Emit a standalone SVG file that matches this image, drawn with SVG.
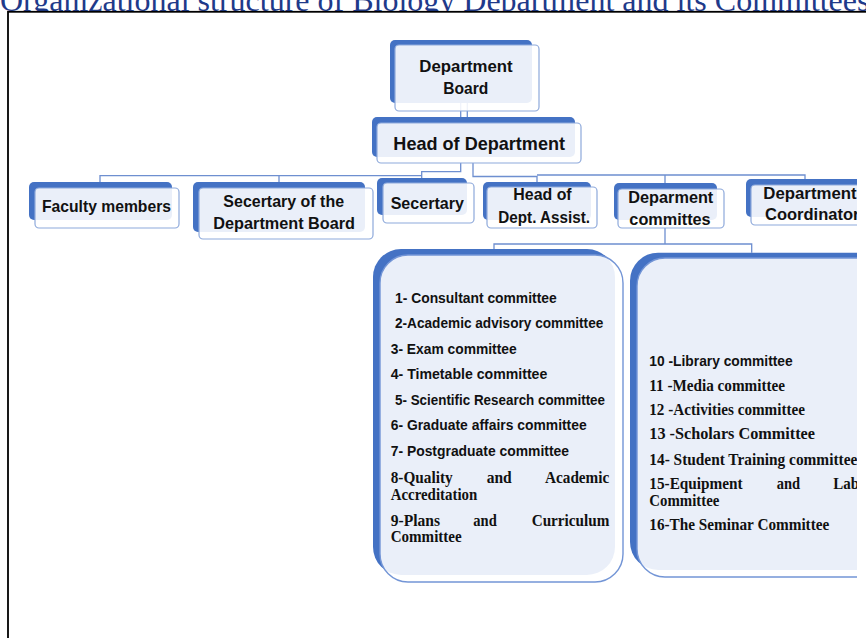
<svg xmlns="http://www.w3.org/2000/svg" width="866" height="638" viewBox="0 0 866 638">
<defs>
<style>
.back{fill:#4472C4}
.front{fill:#fff;fill-opacity:.89;stroke:#8EA9DB;stroke-width:1.2}
.big{stroke:#7395D6;stroke-width:1.4}
.conn{fill:none;stroke:#6E8FD0;stroke-width:1.3}
.t{font-family:"Liberation Sans",Arial,sans-serif;font-weight:bold;fill:#111;font-size:17px}
.c{text-anchor:middle}
.s{font-family:"Liberation Sans",Arial,sans-serif;font-weight:bold;fill:#111;font-size:15px}
.r{font-family:"Liberation Serif","Times New Roman",serif;font-weight:bold;fill:#111;font-size:16px}
.title{font-family:"Liberation Serif","Times New Roman",serif;font-size:32px;fill:#1F3A8A}
</style>
<clipPath id="page"><rect x="0" y="12" width="857" height="626"/></clipPath>
</defs>

<rect width="866" height="638" fill="#fff"/>
<text class="title" x="0" y="10.5">Organizational structure of Biology Department and its Committees</text>
<!-- page frame, its white body hides the title descenders -->
<rect x="8" y="11.8" width="900" height="700" fill="#fff" stroke="#000" stroke-width="1.8"/>

<g clip-path="url(#page)">
<!-- connectors -->
<g id="connectors" class="conn">
  <path d="M460.7 103V117M467.3 103V117"/>
  <path d="M460.7 163V171.7H421.7V178"/>
  <path d="M421.7 175.7H100V182M279 175.7V182"/>
  <path d="M473 163V176.5H537V182"/>
  <path d="M537 175H805V179M665 175V183"/>
  <path d="M665 228V244M494 249V244H751.7V252.7"/>
</g>

<!-- top level -->
<g id="board">
  <rect class="back" x="390" y="40" width="142" height="63" rx="5"/>
  <rect class="front" x="395" y="45" width="144" height="66" rx="4"/>
  <text class="t c" x="466" y="72" textLength="93.3" lengthAdjust="spacingAndGlyphs">Department</text>
  <text class="t c" x="465.8" y="94" textLength="45" lengthAdjust="spacingAndGlyphs">Board</text>
</g>
<g id="head">
  <rect class="back" x="372" y="117" width="203" height="40" rx="5"/>
  <rect class="front" x="377" y="123" width="204" height="40" rx="4"/>
  <text class="t c" x="479.2" y="150" style="font-size:19px" textLength="171.7" lengthAdjust="spacingAndGlyphs">Head of Department</text>
</g>

<!-- second level -->
<g id="faculty">
  <rect class="back" x="29" y="182" width="143" height="38" rx="5"/>
  <rect class="front" x="35" y="188" width="144" height="40" rx="4"/>
  <text class="t c" x="106.5" y="212" textLength="129" lengthAdjust="spacingAndGlyphs">Faculty members</text>
</g>
<g id="board-secretary">
  <rect class="back" x="193" y="182" width="172" height="50" rx="5"/>
  <rect class="front" x="199" y="188" width="174" height="51" rx="4"/>
  <text class="t c" x="283.7" y="207" textLength="120.7" lengthAdjust="spacingAndGlyphs">Secertary of the</text>
  <text class="t c" x="284.2" y="228.5" textLength="141.7" lengthAdjust="spacingAndGlyphs">Department Board</text>
</g>
<g id="secretary">
  <rect class="back" x="377" y="178" width="90" height="37" rx="5"/>
  <rect class="front" x="383" y="183" width="91" height="40" rx="4"/>
  <text class="t c" x="427.3" y="208.5" textLength="73.3" lengthAdjust="spacingAndGlyphs">Secertary</text>
</g>
<g id="head-assistant">
  <rect class="back" x="483" y="182" width="108" height="38" rx="5"/>
  <rect class="front" x="487" y="187" width="110" height="41" rx="4"/>
  <text class="t c" x="542.5" y="200" textLength="58.3" lengthAdjust="spacingAndGlyphs">Head of</text>
  <text class="t c" x="544.2" y="222.5" textLength="91.7" lengthAdjust="spacingAndGlyphs">Dept. Assist.</text>
</g>
<g id="committees">
  <rect class="back" x="614" y="183" width="103" height="37" rx="5"/>
  <rect class="front" x="618" y="189" width="106" height="39" rx="4"/>
  <text class="t c" x="670.8" y="202.5" textLength="85" lengthAdjust="spacingAndGlyphs">Deparment</text>
  <text class="t c" x="670" y="224.5" textLength="81.3" lengthAdjust="spacingAndGlyphs">committes</text>
</g>
<g id="coordinator">
  <rect class="back" x="746" y="179" width="130" height="38" rx="5"/>
  <rect class="front" x="751" y="185" width="130" height="40" rx="4"/>
  <text class="t" x="763.3" y="198.5" textLength="93.3" lengthAdjust="spacingAndGlyphs">Department</text>
  <text class="t" x="765" y="220" textLength="94.4" lengthAdjust="spacingAndGlyphs">Coordinator</text>
</g>

<!-- committee lists -->
<g id="committee-list-1">
  <rect class="back" x="373" y="249" width="242" height="326" rx="28"/>
  <rect class="front big" x="380" y="255" width="243" height="327" rx="28"/>
  <text class="s" x="395" y="302.5" textLength="161.7" lengthAdjust="spacingAndGlyphs">1- Consultant committee</text>
  <text class="s" x="395" y="328" textLength="208.3" lengthAdjust="spacingAndGlyphs">2-Academic advisory committee</text>
  <text class="s" x="390.7" y="353.5" textLength="126" lengthAdjust="spacingAndGlyphs">3- Exam committee</text>
  <text class="s" x="390.7" y="378.5" textLength="156.6" lengthAdjust="spacingAndGlyphs">4- Timetable committee</text>
  <text class="s" x="395" y="404.5" textLength="210" lengthAdjust="spacingAndGlyphs">5- Scientific Research committee</text>
  <text class="s" x="390.7" y="430" textLength="196" lengthAdjust="spacingAndGlyphs">6- Graduate affairs committee</text>
  <text class="s" x="390.7" y="456" textLength="178.3" lengthAdjust="spacingAndGlyphs">7- Postgraduate committee</text>
  <text class="r" y="483"><tspan x="390.7" textLength="62" lengthAdjust="spacingAndGlyphs">8-Quality</tspan><tspan x="486.7" textLength="25" lengthAdjust="spacingAndGlyphs">and</tspan><tspan x="545" textLength="64.3" lengthAdjust="spacingAndGlyphs">Academic</tspan></text>
  <text class="r" x="390.7" y="499.5" textLength="86.6" lengthAdjust="spacingAndGlyphs">Accreditation</text>
  <text class="r" y="526"><tspan x="390.7" textLength="49.3" lengthAdjust="spacingAndGlyphs">9-Plans</tspan><tspan x="473.3" textLength="23.4" lengthAdjust="spacingAndGlyphs">and</tspan><tspan x="531.7" textLength="77.6" lengthAdjust="spacingAndGlyphs">Curriculum</tspan></text>
  <text class="r" x="390.7" y="541.5" textLength="71" lengthAdjust="spacingAndGlyphs">Committee</text>
</g>
<g id="committee-list-2">
  <rect class="back" x="630" y="252.7" width="260" height="317.3" rx="28"/>
  <rect class="front big" x="637" y="258" width="260" height="319" rx="28"/>
  <text class="s" x="649.3" y="366" textLength="143.4" lengthAdjust="spacingAndGlyphs">10 -Library committee</text>
  <text class="r" x="649.3" y="390.5" textLength="135.7" lengthAdjust="spacingAndGlyphs">11 -Media committee</text>
  <text class="r" x="649.3" y="415" textLength="155.7" lengthAdjust="spacingAndGlyphs">12 -Activities committee</text>
  <text class="r" x="649.3" y="439" textLength="165.7" lengthAdjust="spacingAndGlyphs">13 -Scholars Committee</text>
  <text class="r" x="649.3" y="464.5" textLength="208" lengthAdjust="spacingAndGlyphs">14- Student Training committee</text>
  <text class="r" y="488.5"><tspan x="649.3" textLength="93.4" lengthAdjust="spacingAndGlyphs">15-Equipment</tspan><tspan x="776.7" textLength="23.3" lengthAdjust="spacingAndGlyphs">and</tspan><tspan x="833.3" textLength="25.8" lengthAdjust="spacingAndGlyphs">Lab</tspan></text>
  <text class="r" x="649.3" y="506" textLength="70" lengthAdjust="spacingAndGlyphs">Committee</text>
  <text class="r" x="649.3" y="530" textLength="180" lengthAdjust="spacingAndGlyphs">16-The Seminar Committee</text>
</g>
</g>
</svg>
